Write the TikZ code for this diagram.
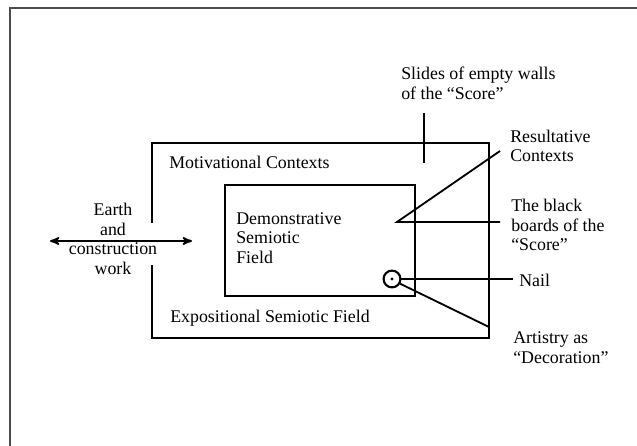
\documentclass[tikz,border=0pt]{standalone}
\usepackage{fontspec}
\setmainfont{Liberation Serif}
\usetikzlibrary{arrows}

\begin{document}
\begin{tikzpicture}[x=0.025cm,y=-0.025cm,>=stealth',
    lbl/.style={font=\fontsize{12.7}{14}\selectfont,align=left,inner sep=0pt},
    field/.style={line width=1.6pt},
    lead/.style={line width=1.3pt}]

  \useasboundingbox (0,0) rectangle (637,446);
  \draw[line width=1.5pt,black!70] (10,446) -- (10,8) -- (637,8);

  % the two fields
  \draw[field] (152,223) -- (152,143) -- (489,143) -- (489,338) -- (152,338) -- (152,265);
  \draw[field] (225,185) rectangle (415,296);

  \node[lbl,anchor=west] (motiv) at (169,162) {Motivational Contexts};
  \node[lbl,anchor=west] (expo) at (170,318) {Expositional Semiotic Field};
  \node[lbl,anchor=west] (demo) at (236,238) {Demonstrative\\Semiotic\\Field};
  \node[lbl,align=center] (earth) at (113,239) {Earth\\and\\construction\\work};

  \node[lbl,anchor=west] (slides) at (401,83) {Slides of empty walls\\of the ``Score''};
  \node[lbl,anchor=west] (result) at (510,146) {Resultative\\Contexts};
  \node[lbl,anchor=west] (boards) at (511,225) {The black\\boards of the\\``Score''};
  \node[lbl,anchor=west] (nailtxt) at (519,280) {Nail};
  \node[lbl,anchor=west] (artist) at (513,348) {Artistry as\\``Decoration''};

  \node[circle,draw,line width=1.5pt,minimum size=0.42cm,inner sep=0pt] (nail) at (392,279) {};
  \fill (nail.center) circle (1.6);

  \coordinate (earthW) at (50,241);
  \coordinate (earthE) at (192,241);
  \coordinate (tickT) at (424,113);
  \coordinate (tickB) at (424,163);
  \coordinate (board) at (397,222);
  \coordinate (resEnd) at (500,151);
  \coordinate (brdEnd) at (500,222);
  \coordinate (nailEnd) at (513,279);
  \coordinate (artEnd) at (489,327);

  \draw[lead,<->,>={stealth'[scale=1.3]}] (earthW) -- (earthE);
  \draw[lead] (tickT) -- (tickB);
  \draw[lead] (resEnd) -- (board) -- (brdEnd);
  \draw[lead] (nail.east) -- (nailEnd);
  \draw[lead] (nail.-30) -- (artEnd);
\end{tikzpicture}
\end{document}
